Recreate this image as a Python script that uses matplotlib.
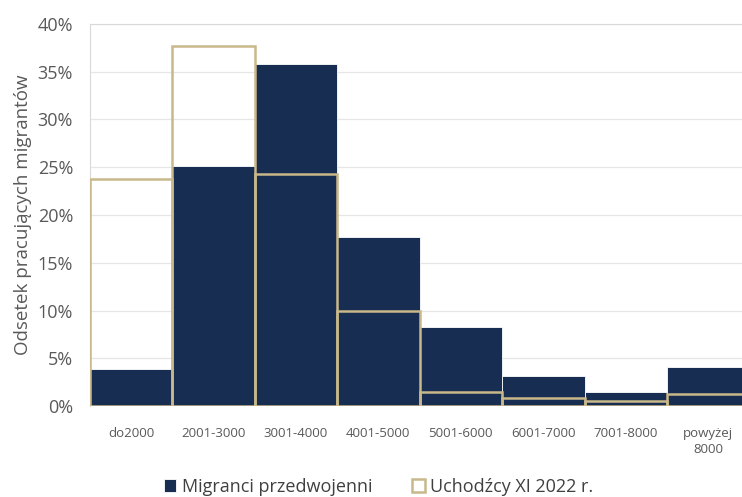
import numpy as np
import matplotlib.pyplot as plt
from matplotlib.ticker import PercentFormatter

# Dane
kategorie = ['do2000', '2001-3000', '3001-4000', '4001-5000', '5001-6000',
             '6001-7000', '7001-8000', 'powyżej\n8000']
migranci = [3.9, 25.1, 35.8, 17.7, 8.3, 3.1, 1.5, 4.1]
uchodzcy = [23.8, 37.7, 24.3, 9.9, 1.5, 0.8, 0.5, 1.3]

granat = '#172e52'
zloty = '#c9b88a'
szary = '#595959'

plt.rcParams['font.family'] = ['Open Sans', 'DejaVu Sans']

fig = plt.figure(figsize=(7.42, 4.97), dpi=100)
ax = fig.add_axes([0.121, 0.183, 0.879, 0.769])

x = np.arange(len(kategorie))
ax.bar(x, migranci, width=1.0, color=granat, edgecolor='white', linewidth=0.6,
       label='Migranci przedwojenni', zorder=2)
ax.bar(x, uchodzcy, width=1.0, facecolor='none', edgecolor=zloty, linewidth=1.8,
       label='Uchodźcy XI 2022 r.', zorder=3)

ax.set_ylim(0, 40)
ax.set_xlim(-0.5, 7.41)
ax.set_yticks(np.arange(0, 41, 5))
ax.yaxis.set_major_formatter(PercentFormatter(decimals=0))
ax.set_xticks(x)
ax.set_xticklabels(kategorie, fontsize=9.5, color=szary, linespacing=1.3)
ax.tick_params(axis='y', labelsize=13, colors=szary, length=0, pad=12)
ax.tick_params(axis='x', length=0, pad=15)
ax.grid(axis='y', color='#e6e6e6', linewidth=0.9, zorder=0)
ax.set_axisbelow(True)
for s in ['right', 'bottom']:
    ax.spines[s].set_visible(False)
ax.spines['top'].set_color('#d9d9d9')
ax.spines['left'].set_color('#d9d9d9')
ax.set_ylabel('Odsetek pracujących migrantów', fontsize=13.5, color=szary, labelpad=4)

fig.legend(loc='lower center', bbox_to_anchor=(0.51, -0.03), ncol=2, frameon=False,
           fontsize=13, labelcolor='#404040', handlelength=0.7, handleheight=0.7,
           columnspacing=2.2, handletextpad=0.3)

fig.savefig('out.png', dpi=100)
